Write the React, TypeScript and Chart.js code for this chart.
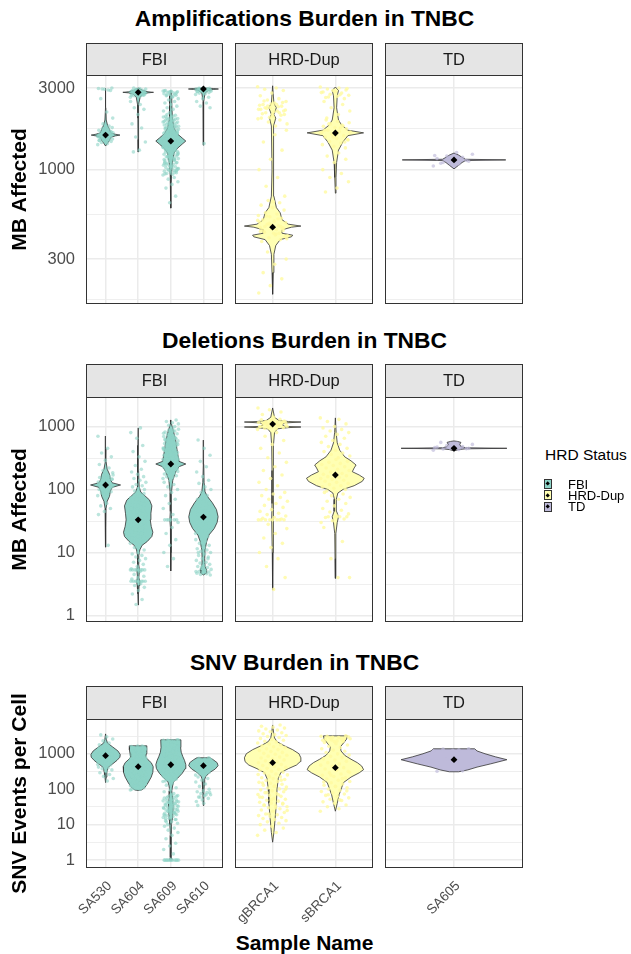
import React, { useEffect, useRef } from "react";
import { Chart, registerables } from "chart.js";
Chart.register(...registerables);

const FONT = '"Liberation Sans", Arial, Helvetica, sans-serif';

// ---------- categories ----------
const groups = ["FBI", "HRD-Dup", "TD"];
const groupColors = ["#8DD3C7", "#FFFFB3", "#BEBADA"];
const groupPointColors = ["rgba(141,211,199,0.6)", "rgba(255,250,160,0.8)", "rgba(190,186,218,0.65)"];
const samplesFBI = ["SA530", "SA604", "SA609", "SA610"];
const samplesHRD = ["gBRCA1", "sBRCA1"];
const samplesTD = ["SA605"];

const rowTitles = ["Amplifications Burden in TNBC", "Deletions Burden in TNBC", "SNV Burden in TNBC"];
const rowYTitles = ["MB Affected", "MB Affected", "SNV Events per Cell"];
const xTitle = "Sample Name";
const legendTitle = "HRD Status";

// ---------- axes ----------
const ampRange = [164, 3573];
const ampMajors = [300, 1000, 3000];
const ampMinors = [173.2, 547.7, 1732];
const delRange = [0.79, 2940];
const delMajors = [1, 10, 100, 1000];
const delMinors = [3.162, 31.62, 316.2];
const snvRange = [0.64, 9550];
const snvMajors = [1, 10, 100, 1000];
const snvMinors = [3.162, 31.62, 316.2, 3162];

// ---------- Amplifications ----------
const ampMeansFBI = [1592, 2830, 1469, 2960];
const ampMeansHRD = [461, 1637];
const ampMeansTD = [1140];

const ampViolinSA530 = [[1374, 0], [1420, 0.05], [1480, 0.12], [1545, 0.16], [1575, 0.3], [1592, 0.44], [1610, 0.3], [1640, 0.16], [1720, 0.12], [1820, 0.06], [1950, 0.02], [2300, 0.008], [2950, 0.004], [3000, 0]];
const ampViolinSA604 = [[1268, 0], [1500, 0.005], [2000, 0.01], [2400, 0.02], [2650, 0.06], [2760, 0.15], [2810, 0.3], [2830, 0.47], [2850, 0.3], [2900, 0.15], [2960, 0.06], [3000, 0]];
const ampViolinSA609 = [[596, 0], [800, 0.005], [930, 0.02], [1100, 0.05], [1250, 0.1], [1330, 0.2], [1410, 0.35], [1469, 0.46], [1530, 0.35], [1620, 0.2], [1750, 0.1], [2000, 0.05], [2400, 0.03], [2700, 0.03], [2900, 0]];
const ampViolinSA610 = [[1390, 0], [2000, 0.005], [2500, 0.01], [2800, 0.05], [2900, 0.15], [2940, 0.3], [2960, 0.46], [2980, 0.3], [3000, 0]];
const ampViolinGBRCA1 = [[187, 0], [250, 0.01], [320, 0.02], [360, 0.05], [390, 0.12], [405, 0.3], [414, 0.32], [425, 0.15], [445, 0.15], [461, 0.3], [468, 0.45], [480, 0.25], [510, 0.15], [560, 0.12], [600, 0.06], [700, 0.02], [1000, 0.01], [1800, 0.02], [2000, 0.05], [2100, 0.02], [2300, 0.06], [2450, 0.02], [3090, 0]];
const ampViolinSBRCA1 = [[729, 0], [900, 0.01], [1100, 0.02], [1300, 0.05], [1450, 0.12], [1580, 0.2], [1640, 0.45], [1700, 0.2], [1820, 0.1], [1950, 0.05], [2300, 0.02], [2700, 0.03], [2900, 0.05], [3040, 0]];
const ampViolinSA605 = [[1010, 0], [1060, 0.04], [1100, 0.07], [1130, 0.1], [1140, 0.45], [1150, 0.1], [1180, 0.07], [1217, 0.04], [1250, 0]];

const ampPtsSA530 = [1400, 1420, 1440, 1460, 1470, 1480, 1490, 1500, 1510, 1520, 1530, 1540, 1550, 1560, 1570, 1580, 1590, 1600, 1610, 1620, 1630, 1640, 1650, 1660, 1670, 1680, 1700, 1720, 1740, 1760, 1450, 1530, 1580, 1620, 1560, 1500, 1600, 1650, 1540, 1480, 1800, 1850, 2000, 2170, 2600, 2900, 2950, 2980, 2920, 2960, 3000];
const ampPtsSA604 = [2650, 2680, 2700, 2720, 2740, 2760, 2780, 2790, 2800, 2810, 2820, 2830, 2840, 2850, 2860, 2870, 2880, 2890, 2900, 2920, 2940, 2960, 2980, 3000, 2750, 2850, 2710, 2800, 2900, 2770, 2820, 2870, 2730, 2950, 2500, 2400, 2300, 2250, 2100, 1850, 1750, 1550, 1450, 1300, 1270];
const ampPtsSA609 = [930, 940, 950, 960, 970, 980, 990, 1000, 1010, 1020, 1030, 1040, 1050, 1060, 1075, 1090, 1100, 1110, 1125, 1140, 1150, 1160, 1175, 1190, 1200, 1215, 1230, 1245, 1260, 1275, 1290, 1305, 1320, 1335, 1350, 1365, 1380, 1395, 1410, 1425, 1440, 1455, 1470, 1485, 1500, 1520, 1540, 1560, 1580, 1600, 1620, 1640, 1660, 1680, 1700, 1720, 1740, 1760, 1780, 1800, 1825, 1850, 1875, 1900, 1925, 1950, 1975, 2000, 2030, 2060, 2100,
  1000, 1050, 1100, 1150, 1200, 1250, 1300, 1350, 1400, 1450, 1500, 1550, 1600, 1650, 1700, 1750, 1800, 1850, 1900, 1950, 2000, 985, 1035, 1085, 1135, 1185, 1235, 1285, 1335, 1385, 1435, 1485, 1535, 1585, 1635, 1685,
  945, 965, 995, 1015, 1045, 1070, 1095, 1120, 1145, 1170, 1195, 1220, 1240, 1270, 1295, 1315, 1345, 1375, 1400, 1420, 1445, 1465, 1490, 1510, 1530, 1550, 1570, 1590, 1610, 1630, 1650, 1670, 1690, 1710, 1730, 1750, 1770, 1790, 1815, 1840, 1865, 1890, 1915, 1940, 1960, 1990, 2020, 2050, 2080,
  2150, 2200, 2250, 2300, 2350, 2400, 2450, 2500, 2550, 2600, 2650, 2700, 2720, 2750, 2780, 2800, 2820, 2850, 2870, 2900, 2760, 2840, 2880, 2680, 2730, 2810, 2860, 2890,
  900, 880, 850, 820, 780, 700, 640];
const ampPtsSA610 = [2750, 2780, 2800, 2820, 2840, 2860, 2880, 2900, 2910, 2920, 2930, 2940, 2950, 2960, 2970, 2980, 2990, 3000, 2850, 2950, 2900, 2870, 2930, 2990, 2650, 2600, 2500, 2450, 2350, 2300, 1420];
const ampPtsGBRCA1 = [3050, 3000, 2950, 2900, 2800, 2700, 2600, 2550, 2500, 2450, 2400, 2350, 2300, 2250, 2200, 2150, 2100, 2050, 2000, 1950, 1900, 1850, 1800, 2520, 2470, 2420, 2380, 2330, 2280, 2230, 2180, 2120, 2080, 2020, 1980, 2400, 2300, 2200, 2100, 2250, 2150, 2350,
  1700, 1600, 1450, 1300, 1150, 1000, 900, 800, 700, 650,
  380, 390, 400, 410, 420, 430, 440, 450, 460, 470, 480, 490, 500, 510, 520, 530, 540, 550, 560, 580, 600, 620, 640, 660, 395, 415, 435, 455, 475, 495, 515, 535, 405, 425, 445, 465, 485, 505, 445, 465, 455, 475, 435, 425,
  330, 300, 280, 250, 230, 210, 190];
const ampPtsSBRCA1 = [3040, 3000, 2960, 2920, 2880, 2840, 2800, 2760, 2720, 2680, 2640, 2600, 2900, 2820, 2740, 2660, 2980, 2860,
  2500, 2400, 2300, 2200, 2100, 2000,
  1340, 1370, 1400, 1430, 1460, 1490, 1520, 1550, 1580, 1610, 1640, 1670, 1700, 1730, 1760, 1790, 1820, 1850, 1880, 1910, 1950, 1450, 1550, 1650, 1750, 1850, 1500, 1600, 1700, 1800, 1620, 1660,
  1250, 1200, 1150, 1100, 1000, 950, 900, 850, 780, 740];
const ampPtsSA605 = [1050, 1080, 1100, 1120, 1140, 1160, 1180, 1200, 1230, 1260, 1090, 1130, 1170, 1210];

// ---------- Deletions ----------
const delMeansFBI = [118, 33, 254, 36.6];
const delMeansHRD = [1095, 170];
const delMeansTD = [451];

const delViolinSA530 = [[12.2, 0], [25, 0.008], [50, 0.015], [65, 0.05], [78, 0.12], [95, 0.15], [108, 0.2], [118, 0.46], [128, 0.2], [145, 0.15], [175, 0.12], [210, 0.05], [280, 0.015], [450, 0.008], [707, 0]];
const delViolinSA604 = [[1.47, 0], [2.2, 0.01], [3.0, 0.03], [3.5, 0.05], [4.0, 0.02], [5.3, 0.04], [6.5, 0.015], [9, 0.02], [11, 0.05], [13, 0.12], [15, 0.28], [18, 0.42], [21, 0.45], [26, 0.4], [33, 0.37], [42, 0.39], [55, 0.42], [68, 0.35], [80, 0.2], [91, 0.08], [110, 0.03], [200, 0.012], [500, 0.006], [950, 0]];
const delViolinSA609 = [[5.1, 0], [10, 0.008], [25, 0.012], [33, 0.03], [45, 0.015], [90, 0.02], [140, 0.06], [190, 0.15], [230, 0.25], [254, 0.46], [280, 0.25], [400, 0.2], [600, 0.15], [850, 0.08], [1100, 0.02], [1270, 0]];
const delViolinSA610 = [[4.4, 0], [4.7, 0.08], [5.3, 0.1], [6, 0.05], [8, 0.04], [11, 0.05], [15, 0.1], [19, 0.17], [24, 0.33], [30, 0.42], [37, 0.45], [48, 0.4], [62, 0.27], [78, 0.12], [92, 0.05], [130, 0.02], [250, 0.01], [610, 0]];
const delViolinGBRCA1 = [[2.54, 0], [10, 0.006], [33, 0.015], [60, 0.01], [200, 0.01], [500, 0.015], [800, 0.03], [920, 0.08], [960, 0.25], [982, 0.45], [1005, 0.2], [1050, 0.16], [1095, 0.16], [1140, 0.2], [1178, 0.45], [1200, 0.25], [1250, 0.1], [1400, 0.03], [1970, 0]];
const delViolinSBRCA1 = [[3.9, 0], [8, 0.005], [20, 0.01], [30, 0.03], [37, 0.05], [45, 0.02], [70, 0.015], [88, 0.04], [100, 0.12], [115, 0.3], [135, 0.43], [151, 0.46], [170, 0.38], [192, 0.27], [220, 0.3], [245, 0.33], [285, 0.25], [330, 0.15], [420, 0.07], [550, 0.03], [800, 0.012], [1370, 0]];
const delViolinSA605 = [[410, 0], [430, 0.04], [442, 0.1], [451, 0.46], [460, 0.1], [480, 0.06], [520, 0.05], [560, 0.06], [580, 0.03], [590, 0]];

const delPtsSA530 = [80, 84, 88, 92, 96, 100, 104, 108, 112, 116, 120, 124, 128, 132, 136, 140, 145, 150, 155, 160, 165, 170, 90, 98, 106, 114, 122, 130, 138, 146, 94, 110, 126, 142,
  700, 450, 380, 330, 290, 250, 220, 200, 185, 60, 55, 50, 45, 40, 13];
const delPtsSA604 = [14, 15, 16, 17, 18, 19, 20, 21, 22, 23, 24, 25, 26, 27, 28, 29, 30, 32, 34, 36, 38, 40, 42, 44, 46, 48, 50, 52, 55, 58, 61, 64, 67, 70, 74, 78, 82, 86, 90, 17, 20, 23, 26, 30, 35, 40, 45, 50, 60,
  95, 100, 105, 110, 115, 120, 130, 140, 150, 160, 175, 190, 210, 240, 280, 330, 400, 500, 650, 800, 950,
  12, 11, 10, 9.5, 9, 8.5, 8, 7.5, 7, 6.5, 6, 5.5, 5.3, 5.3, 5.3, 5.3, 5.3, 5.3, 5.3, 5.3, 5, 4.5, 4.2, 4, 3.8, 3.5, 3.5, 3.5, 3.5, 3.5, 3.5, 3.5, 3.5, 3.2, 3, 2.8, 2.5, 2.2, 1.8, 1.5];
const delPtsSA609 = [150, 155, 160, 165, 170, 176, 182, 188, 194, 200, 207, 214, 221, 228, 236, 244, 252, 260, 269, 278, 287, 297, 307, 317, 328, 339, 350, 362, 374, 386, 399, 412, 426, 440, 455, 470, 486, 502, 519, 536, 554, 572, 591, 611, 631, 652, 674, 696, 719, 743, 768, 794, 820, 847, 875, 904, 934,
  190, 210, 230, 250, 270, 290, 310, 330, 350, 380, 410, 440, 470, 500, 540, 580, 620, 680, 200, 240, 280, 320, 360, 400, 450,
  185, 195, 215, 225, 245, 265, 285, 300, 315, 340, 370, 390, 420, 460, 490, 520, 560, 600, 650, 720, 780, 850, 300, 330, 360, 260,
  1000, 1050, 1100, 1150, 1200, 1270,
  140, 130, 120, 110, 100, 90, 80, 70, 60, 50, 40, 33, 33, 33, 33, 33, 33, 30, 25, 20, 16, 13, 10, 8, 6];
const delPtsSA610 = [20, 22, 24, 26, 28, 30, 32, 34, 36, 38, 40, 42, 45, 48, 51, 55, 60, 65, 70, 80, 90,
  100, 110, 125, 140, 160, 190, 230, 280, 350, 450, 610,
  18, 17, 16, 15, 14, 13, 12, 11.5, 11, 10.5, 10, 9.5, 9, 8.5, 8, 7.5, 7, 6.8, 6.5, 6.2, 6, 5.8, 5.6, 5.4, 5.2, 5, 4.9, 4.8, 4.7, 4.6, 4.5, 4.4, 12, 10, 8, 6, 5];
const delPtsGBRCA1 = [900, 920, 940, 960, 980, 1000, 1020, 1040, 1060, 1080, 1100, 1120, 1140, 1160, 1180, 1200, 1220, 1250, 1280, 1300, 950, 1010, 1070, 1130, 1190, 1240, 990, 1050, 1110, 1170,
  1400, 1550, 1700, 1850, 1970,
  800, 700, 600, 520, 450, 380, 320, 270, 230, 200, 170, 150, 130, 115, 100,
  90, 85, 80, 75, 70, 65, 60, 56, 52, 48, 45, 42, 40, 38, 36, 35, 34, 33, 33, 33, 33, 33, 33, 33, 33,
  28, 24, 20, 17, 14, 12, 10, 8, 6, 4, 2.6];
const delPtsSBRCA1 = [1370, 1300, 1200, 1100, 1000, 950, 900, 850, 800, 750, 700, 650, 600, 560,
  520, 480, 450, 420, 400, 380, 360, 340, 320,
  95, 100, 105, 110, 115, 120, 125, 130, 135, 140, 145, 150, 155, 160, 165, 170, 175, 180, 190, 200, 210, 220, 230, 240, 250, 260, 270, 280, 300,
  90, 85, 80, 75, 70, 65, 60, 55, 50, 47, 44, 41, 38, 36, 34, 32, 30, 37, 37, 37, 37,
  25, 15, 8, 4, 4];
const delPtsSA605 = [420, 430, 440, 450, 460, 470, 480, 500, 520, 540, 560, 445, 455, 465];

// ---------- SNV ----------
const snvMeansFBI = [880, 433, 490, 460];
const snvMeansHRD = [560, 405];
const snvMeansTD = [680];

const snvViolinSA530 = [[154, 0], [220, 0.02], [300, 0.04], [400, 0.07], [450, 0.12], [520, 0.22], [650, 0.35], [800, 0.44], [950, 0.45], [1200, 0.38], [1550, 0.22], [2000, 0.06], [2500, 0.025], [3630, 0]];
const snvViolinSA604 = [[92, 0], [95, 0.1], [110, 0.2], [150, 0.3], [220, 0.4], [300, 0.45], [433, 0.46], [560, 0.4], [680, 0.3], [800, 0.23], [1000, 0.25], [1300, 0.27], [1675, 0.26]];
const snvViolinSA609 = [[1, 0.04], [1.2, 0.02], [2, 0.01], [5, 0.015], [10, 0.03], [15, 0.05], [25, 0.07], [40, 0.07], [60, 0.05], [90, 0.03], [130, 0.06], [164, 0.09], [200, 0.2], [280, 0.35], [380, 0.44], [492, 0.46], [650, 0.42], [824, 0.37], [1100, 0.32], [1500, 0.3], [2466, 0.31]];
const snvViolinSA610 = [[35, 0], [50, 0.01], [80, 0.015], [130, 0.025], [190, 0.04], [227, 0.07], [290, 0.18], [370, 0.36], [460, 0.45], [560, 0.42], [680, 0.3], [770, 0.2]];
const snvViolinGBRCA1 = [[3.2, 0], [6, 0.02], [15, 0.04], [40, 0.06], [100, 0.07], [200, 0.09], [294, 0.13], [380, 0.25], [480, 0.38], [600, 0.44], [770, 0.45], [1000, 0.42], [1300, 0.32], [1700, 0.18], [2200, 0.07], [2800, 0.03], [4000, 0.015], [6480, 0]];
const snvViolinSBRCA1 = [[24, 0], [40, 0.03], [70, 0.06], [110, 0.1], [154, 0.13], [220, 0.25], [290, 0.38], [356, 0.45], [450, 0.42], [560, 0.35], [700, 0.25], [900, 0.15], [1200, 0.09], [1570, 0.08], [2000, 0.13], [2600, 0.18], [3200, 0.19]];
const snvViolinSA605 = [[310, 0.04], [350, 0.12], [420, 0.2], [520, 0.32], [680, 0.46], [820, 0.36], [1000, 0.27], [1200, 0.2], [1380, 0.18]];

const snvPtsSA530 = [500, 530, 560, 590, 620, 650, 680, 710, 740, 770, 800, 830, 860, 890, 920, 950, 980, 1010, 1050, 1090, 1130, 1170, 1210, 1260, 1310, 1360, 1420, 1480, 700, 800, 900, 1000, 1100, 1200, 600, 750, 850, 950,
  1600, 1800, 2000, 2300, 2600, 3000, 3400,
  480, 450, 420, 400, 380, 350, 320, 290, 260, 230, 200, 170];
const snvPtsSA604 = [95, 100, 105, 110, 115, 120, 126, 132, 138, 145, 152, 160, 168, 176, 185, 194, 204, 214, 225, 236, 248, 260, 273, 287, 301, 316, 332, 349, 366, 384, 403, 423, 444, 466, 489, 514, 540, 567, 595, 625, 656, 689, 723, 759, 797, 837, 879, 923, 969, 1017, 1068, 1121, 1177, 1236, 1298, 1363, 1431, 1503, 1578, 1657,
  100, 110, 120, 140, 160, 180, 200, 230, 260, 300, 350, 400, 450, 500, 600, 700, 800, 900, 1000, 1200, 1400, 1600, 130, 150, 170, 190, 220, 250,
  105, 125, 145, 165, 185, 210, 240, 270, 320, 380, 430, 480, 550, 650, 750, 850, 950, 1100, 1300, 1500, 1650];
const snvPtsSA609 = [165, 175, 185, 195, 206, 218, 230, 243, 257, 271, 286, 302, 319, 337, 356, 376, 397, 419, 443, 468, 494, 522, 551, 582, 615, 649, 686, 724, 765, 808, 853, 901, 952, 1005, 1062, 1121, 1184, 1251, 1321, 1395, 1473, 1556, 1643, 1736, 1833, 1936, 2045, 2160, 2281, 2409, 2466,
  200, 250, 300, 350, 400, 500, 600, 700, 800, 900, 1000, 1200, 1400, 1600, 1800, 2000, 2200, 2400, 180, 220, 280, 330, 450, 550, 650, 750, 850, 950, 1100, 1300, 1500, 1700, 1900, 2100, 2300,
  170, 190, 210, 240, 260, 290, 320, 370, 420, 480, 530, 580, 630, 700, 780, 880, 980, 1150, 1350, 1550, 1750, 1950, 2150, 2350, 2450,
  150, 130, 110, 95, 85, 75,
  10, 11, 12, 13, 14, 15, 16, 17, 18, 19, 20, 21, 22, 23, 24, 25, 26, 27, 28, 29, 30, 32, 34, 36, 38, 40, 42, 44, 46, 48, 50, 53, 56, 59, 62, 66, 70, 15, 20, 25, 30, 35, 40, 45, 50, 18, 22, 28, 33, 38,
  12, 14, 16, 19, 21, 24, 27, 31, 35, 39, 43, 47, 52, 57, 63, 68,
  9, 8, 7, 6, 5, 4, 3, 2.5, 2, 1.5,
  1, 1, 1, 1, 1, 1, 1, 1, 1, 1, 1, 1];
const snvPtsSA610 = [250, 265, 280, 295, 310, 330, 350, 370, 390, 410, 430, 450, 470, 490, 510, 530, 550, 575, 600, 625, 650, 680, 710, 740, 770, 300, 400, 500, 600, 700,
  240, 220, 200, 180, 160, 140, 120, 100,
  90, 85, 80, 75, 70, 65, 60, 55, 50, 45, 70, 60, 80,
  40, 35];
const snvPtsGBRCA1 = [5, 6, 7, 8, 9, 10, 11, 12, 13, 14, 15, 16, 17, 18, 19, 20, 22, 24, 26, 28, 30, 32, 34, 36, 38, 40, 43, 46, 49, 52, 55, 59, 63, 67, 71, 75, 80, 85, 90, 96, 102, 108, 115, 122, 130, 138, 147, 156, 166, 176, 187, 199, 211, 224, 238, 253, 269, 286, 304, 323, 343, 365, 388, 412, 438, 465, 494, 525, 558, 593, 630, 670, 712, 757, 804, 855, 908, 965, 1026, 1090, 1158, 1231, 1308, 1390, 1477, 1570, 1668, 1773, 1884, 2002, 2128, 2261, 2403, 2554, 2714, 2884, 3065, 3257, 3461, 3678, 3909, 4154, 4414, 4691, 4985, 5297, 5629, 5982, 6480,
  20, 25, 30, 35, 40, 50, 60, 70, 80, 100, 120, 150, 180, 220, 260];
const snvPtsSBRCA1 = [24, 28, 32, 36, 40, 44, 48, 52, 57, 62, 67, 73, 79, 86, 93, 101, 110, 119, 129, 140, 152, 165, 179, 194, 211, 229, 248, 269, 292, 317, 344, 373, 405, 440, 477, 518, 562, 610, 662, 718, 779, 845, 917, 995, 1080, 1172, 1272, 1380, 1498, 1625, 1764, 1914, 2077, 2254, 2446, 2654, 2880, 3125, 3200,
  2200, 2400, 2600, 2800, 3000, 2300, 2500, 2700, 2900, 3100, 50, 70, 90, 120, 160, 200, 250, 300];
const snvPtsSA605 = [1200, 1300, 1350, 1380, 1250, 320, 330, 700, 800, 600];

// ---------- layout (pixels) ----------
const PANEL_X = [[86, 223], [235, 373], [385, 523]];
const ROW_Y = [
  { stripTop: 43, plotTop: 75, plotBottom: 304 },
  { stripTop: 364, plotTop: 397, plotBottom: 622 },
  { stripTop: 686, plotTop: 719, plotBottom: 868 },
];
const JITTER = [0.24, 0.24, 0.18];
const Y_AXIS_W = 86;
const BOTTOM_CANVAS_END = 930;

const ROWS = [
  {
    range: ampRange, majors: ampMajors, minors: ampMinors,
    panels: [
      { samples: samplesFBI, violins: [ampViolinSA530, ampViolinSA604, ampViolinSA609, ampViolinSA610], points: [ampPtsSA530, ampPtsSA604, ampPtsSA609, ampPtsSA610], means: ampMeansFBI },
      { samples: samplesHRD, violins: [ampViolinGBRCA1, ampViolinSBRCA1], points: [ampPtsGBRCA1, ampPtsSBRCA1], means: ampMeansHRD },
      { samples: samplesTD, violins: [ampViolinSA605], points: [ampPtsSA605], means: ampMeansTD },
    ],
  },
  {
    range: delRange, majors: delMajors, minors: delMinors,
    panels: [
      { samples: samplesFBI, violins: [delViolinSA530, delViolinSA604, delViolinSA609, delViolinSA610], points: [delPtsSA530, delPtsSA604, delPtsSA609, delPtsSA610], means: delMeansFBI },
      { samples: samplesHRD, violins: [delViolinGBRCA1, delViolinSBRCA1], points: [delPtsGBRCA1, delPtsSBRCA1], means: delMeansHRD },
      { samples: samplesTD, violins: [delViolinSA605], points: [delPtsSA605], means: delMeansTD },
    ],
  },
  {
    range: snvRange, majors: snvMajors, minors: snvMinors,
    panels: [
      { samples: samplesFBI, violins: [snvViolinSA530, snvViolinSA604, snvViolinSA609, snvViolinSA610], points: [snvPtsSA530, snvPtsSA604, snvPtsSA609, snvPtsSA610], means: snvMeansFBI },
      { samples: samplesHRD, violins: [snvViolinGBRCA1, snvViolinSBRCA1], points: [snvPtsGBRCA1, snvPtsSBRCA1], means: snvMeansHRD },
      { samples: samplesTD, violins: [snvViolinSA605], points: [snvPtsSA605], means: snvMeansTD },
    ],
  },
];

const panelDeco = {
  id: "panelDeco",
  afterDraw(chart: any, _args: any, opts: any) {
    const { ctx, chartArea: a } = chart;
    const sh = opts.stripH;
    ctx.save();
    ctx.fillStyle = "#E5E5E5";
    ctx.fillRect(a.left, a.top - sh, a.right - a.left, sh);
    ctx.strokeStyle = "#333333";
    ctx.lineWidth = 1;
    ctx.strokeRect(a.left + 0.5, a.top - sh + 0.5, a.right - a.left - 1, sh);
    ctx.strokeRect(a.left + 0.5, a.top + 0.5, a.right - a.left - 1, a.bottom - a.top - 1);
    ctx.fillStyle = "#1A1A1A";
    ctx.font = `16.5px ${FONT}`;
    ctx.textAlign = "center";
    ctx.textBaseline = "middle";
    ctx.fillText(opts.label, (a.left + a.right) / 2, a.top - sh / 2 + 1);
    ctx.restore();
  },
};

type PanelSpec = { row: number; col: number; left: number; top: number; width: number; height: number };

const PANEL_SPECS: PanelSpec[] = [];
for (let r = 0; r < 3; r++) {
  for (let c = 0; c < 3; c++) {
    const [pl, pr] = PANEL_X[c];
    const ry = ROW_Y[r];
    const top = ry.stripTop - 2;
    const bottom = r === 2 ? BOTTOM_CANVAS_END : ry.plotBottom + 2;
    PANEL_SPECS.push({ row: r, col: c, left: pl - Y_AXIS_W, top, width: Y_AXIS_W + (pr - pl) + 2, height: bottom - top });
  }
}

function buildDatasets(panel: any, gi: number) {
  const ds: any[] = [];
  panel.violins.forEach((prof: number[][], i: number) => {
    const right = prof.map(([v, w]) => ({ x: i + w, y: v }));
    const left = prof.slice().reverse().map(([v, w]) => ({ x: i - w, y: v }));
    const poly = [...right, ...left, right[0]];
    ds.push({
      data: poly, borderColor: "#333333", borderWidth: 0.8, backgroundColor: groupColors[gi],
      fill: "shape", pointRadius: 0, tension: 0, order: 2,
    });
  });
  const pts: any[] = [];
  panel.points.forEach((vals: number[], i: number) => {
    vals.forEach((v, k) => {
      const off = (((k * 0.6180339887) % 1) - 0.5) * 2 * JITTER[gi];
      pts.push({ x: i + off, y: v });
    });
  });
  ds.push({
    data: pts, showLine: false, pointRadius: 1.8, pointBackgroundColor: groupPointColors[gi],
    pointBorderWidth: 0, order: 1,
  });
  ds.push({
    data: panel.means.map((m: number, i: number) => ({ x: i, y: m })), showLine: false,
    pointStyle: "rectRot", pointRadius: 3.4, pointBackgroundColor: "#000000", pointBorderWidth: 0, order: 0,
  });
  return ds;
}

function zeroPad(s: any) {
  s.paddingTop = 0; s.paddingBottom = 0; s.paddingLeft = 0; s.paddingRight = 0;
}

function createPanel(canvas: HTMLCanvasElement, spec: PanelSpec) {
  const rowCfg = ROWS[spec.row];
  const panel = rowCfg.panels[spec.col];
  const ry = ROW_Y[spec.row];
  const isLeft = spec.col === 0;
  const isBottom = spec.row === 2;
  const allTicks = [...rowCfg.minors, ...rowCfg.majors].sort((a, b) => a - b);
  const n = panel.samples.length;
  const padTop = ry.plotTop - spec.top;
  const canvasBottom = spec.top + spec.height;
  return new Chart(canvas, {
    type: "line",
    data: { datasets: buildDatasets(panel, spec.col) },
    plugins: [panelDeco],
    options: {
      animation: false,
      responsive: false,
      events: [],
      layout: {
        autoPadding: false,
        padding: { left: isLeft ? 0 : Y_AXIS_W, right: 2, top: padTop, bottom: isBottom ? 0 : canvasBottom - ry.plotBottom },
      },
      plugins: {
        legend: { display: false },
        tooltip: { enabled: false },
        panelDeco: { stripH: ry.plotTop - ry.stripTop, label: groups[spec.col] },
      } as any,
      scales: {
        x: {
          type: "linear", min: -0.6, max: n - 1 + 0.6, offset: false,
          afterBuildTicks: (s: any) => { s.ticks = panel.samples.map((_: string, i: number) => ({ value: i })); },
          afterFit: (s: any) => { s.height = isBottom ? canvasBottom - ry.plotBottom : 0; zeroPad(s); },
          ticks: {
            display: isBottom, autoSkip: false, minRotation: 45, maxRotation: 45, padding: 10, labelOffset: 4,
            color: "#4D4D4D", font: { family: FONT, size: 13.5 },
            callback: (v: any) => panel.samples[v] ?? "",
          },
          grid: { color: "#EBEBEB", lineWidth: 1.5, drawTicks: false },
          border: { display: false },
        },
        y: {
          type: "logarithmic", min: rowCfg.range[0], max: rowCfg.range[1], position: "left",
          afterBuildTicks: (s: any) => { s.ticks = allTicks.map((v) => ({ value: v })); },
          afterFit: (s: any) => { s.width = isLeft ? Y_AXIS_W : 0; zeroPad(s); },
          ticks: {
            display: isLeft, autoSkip: false, padding: 11, color: "#4D4D4D",
            font: { family: FONT, size: 16.5 },
            callback: (v: any) => (rowCfg.majors.includes(v) ? String(v) : ""),
          },
          grid: {
            color: "#EBEBEB", drawTicks: false,
            lineWidth: (c: any) => (c.tick && rowCfg.majors.includes(c.tick.value) ? 1.5 : 0.8),
          },
          border: { display: false },
          title: {
            display: isLeft, text: rowYTitles[spec.row], color: "#000000",
            font: { family: FONT, size: 21, weight: "bold" }, padding: { top: 7.5, bottom: 0 },
          },
        },
      },
    } as any,
  });
}

const TITLE_CENTERS = [18.3, 340, 662.5];
const TITLE_SIZE = 22.8;

export default function App() {
  const refs = useRef<(HTMLCanvasElement | null)[]>([]);
  useEffect(() => {
    const charts = PANEL_SPECS.map((spec, i) => createPanel(refs.current[i] as HTMLCanvasElement, spec));
    return () => charts.forEach((c) => c.destroy());
  }, []);
  return (
    <div style={{ position: "absolute", left: 0, top: 0, width: 631, height: 954, background: "#FFFFFF", fontFamily: FONT, overflow: "hidden" }}>
      {PANEL_SPECS.map((s, i) => (
        <canvas
          key={i}
          ref={(el) => { refs.current[i] = el; }}
          width={s.width}
          height={s.height}
          style={{ position: "absolute", left: s.left, top: s.top, width: s.width, height: s.height }}
        />
      ))}
      {rowTitles.map((t, i) => (
        <div key={t} style={{ position: "absolute", left: 86, width: 437, top: TITLE_CENTERS[i] - 0.49 * TITLE_SIZE, textAlign: "center", fontSize: TITLE_SIZE, lineHeight: `${TITLE_SIZE}px`, fontWeight: "bold", color: "#000", whiteSpace: "nowrap" }}>{t}</div>
      ))}
      <div style={{ position: "absolute", left: 86, width: 437, top: 942 - 0.49 * 21, textAlign: "center", fontSize: 21, lineHeight: "21px", fontWeight: "bold", color: "#000" }}>{xTitle}</div>
      <div style={{ position: "absolute", left: 545, top: 455 - 0.49 * 15.5, fontSize: 15.5, lineHeight: "15.5px", color: "#000", whiteSpace: "nowrap" }}>{legendTitle}</div>
      {groups.map((g, i) => {
        const kt = 479 + i * 11.3;
        return (
          <React.Fragment key={g}>
            <div style={{ position: "absolute", left: 544, top: kt, width: 8, height: 10, background: groupColors[i], border: "1px solid #333", boxSizing: "border-box" }}>
              <div style={{ position: "absolute", left: 1.3, top: 2.3, width: 3.4, height: 3.4, background: "#000", transform: "rotate(45deg)" }} />
            </div>
            <div style={{ position: "absolute", left: 568, top: kt + 5 - 0.49 * 13, fontSize: 13, lineHeight: "13px", color: "#000", whiteSpace: "nowrap" }}>{g}</div>
          </React.Fragment>
        );
      })}
    </div>
  );
}
